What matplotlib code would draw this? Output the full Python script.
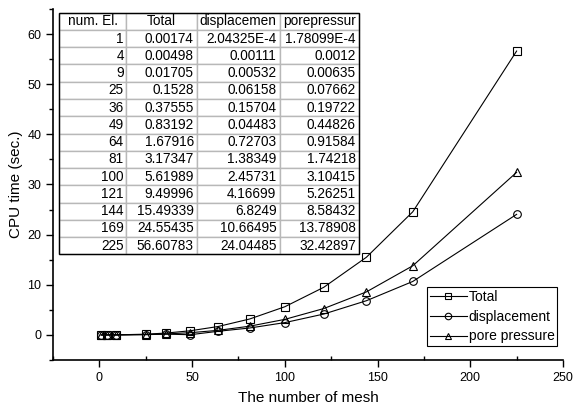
import matplotlib.pyplot as plt
from matplotlib.patches import Rectangle
from matplotlib.ticker import MultipleLocator

plt.rcParams['font.family'] = ['Liberation Sans', 'DejaVu Sans']

num_el = [1, 4, 9, 25, 36, 49, 64, 81, 100, 121, 144, 169, 225]
total_txt = ['0.00174', '0.00498', '0.01705', '0.1528', '0.37555', '0.83192', '1.67916',
             '3.17347', '5.61989', '9.49996', '15.49339', '24.55435', '56.60783']
disp_txt = ['2.04325E-4', '0.00111', '0.00532', '0.06158', '0.15704', '0.04483', '0.72703',
            '1.38349', '2.45731', '4.16699', '6.8249', '10.66495', '24.04485']
pore_txt = ['1.78099E-4', '0.0012', '0.00635', '0.07662', '0.19722', '0.44826', '0.91584',
            '1.74218', '3.10415', '5.26251', '8.58432', '13.78908', '32.42897']
headers = ['num. El.', 'Total', 'displacemen', 'porepressur']

total = [float(s) for s in total_txt]
disp = [float(s) for s in disp_txt]
pore = [float(s) for s in pore_txt]


def plot_cpu_time():
    fig = plt.figure(figsize=(5.73, 4.08), dpi=100)
    ax = fig.add_axes([0.0925, 0.1176, 0.890, 0.8604])

    mk = dict(color='black', linewidth=0.8, markerfacecolor='none',
              markeredgecolor='black', markeredgewidth=0.8, markersize=5.5)
    ax.plot(num_el, total, marker='s', label='Total', **mk)
    ax.plot(num_el, disp, marker='o', label='displacement', **mk)
    ax.plot(num_el, pore, marker='^', label='pore pressure', **mk)

    ax.set_xlim(-25, 250)
    ax.set_ylim(-5, 65)
    ax.xaxis.set_major_locator(MultipleLocator(50))
    ax.xaxis.set_minor_locator(MultipleLocator(25))
    ax.yaxis.set_major_locator(MultipleLocator(10))
    ax.yaxis.set_minor_locator(MultipleLocator(5))
    ax.spines['top'].set_visible(False)
    ax.spines['right'].set_visible(False)
    for s in ['left', 'bottom']:
        ax.spines[s].set_linewidth(1.2)
    ax.tick_params(axis='both', which='major', direction='out', length=5, width=1, labelsize=9)
    ax.tick_params(axis='y', which='minor', direction='out', length=3, width=1)
    ax.tick_params(axis='x', which='minor', direction='in', length=3, width=1)

    ax.set_xlabel('The number of mesh', fontsize=11, labelpad=5)
    ax.set_ylabel('CPU time (sec.)', fontsize=11, labelpad=3)

    # table of timings
    rows = [[str(n), t, d, p] for n, t, d, p in zip(num_el, total_txt, disp_txt, pore_txt)]
    x0, x1 = 0.0124, 0.600
    y0, y1 = 0.301, 0.9895
    tab = ax.table(cellText=rows, colLabels=headers, cellLoc='right',
                   colWidths=[67, 70, 83, 79], bbox=[x0, y0, x1 - x0, y1 - y0], zorder=5)
    tab.auto_set_font_size(False)
    for (r, c), cell in tab.get_celld().items():
        cell.set_edgecolor('#b8b8b8')
        cell.set_linewidth(1.0)
        cell.set_facecolor('white')
        cell.get_text().set_fontsize(9.8)
        cell.PAD = 0.04
        if r == 0:
            cell.get_text().set_horizontalalignment('center')
            cell._loc = 'center'
    ax.add_patch(Rectangle((x0, y0), x1 - x0, y1 - y0, transform=ax.transAxes,
                           fill=False, edgecolor='black', linewidth=1.0, zorder=6))

    leg = ax.legend(loc='upper left', bbox_to_anchor=(0.745, 0.2966),
                    bbox_transform=fig.transFigure, fontsize=10, frameon=True,
                    fancybox=False, framealpha=1, edgecolor='black', borderpad=0.2,
                    labelspacing=0.42, handlelength=2.7, handletextpad=0.1,
                    borderaxespad=0, markerscale=0.85)
    leg.get_frame().set_linewidth(0.8)

    plt.savefig('out.png', dpi=100)


if __name__ == "__main__":
    plot_cpu_time()
